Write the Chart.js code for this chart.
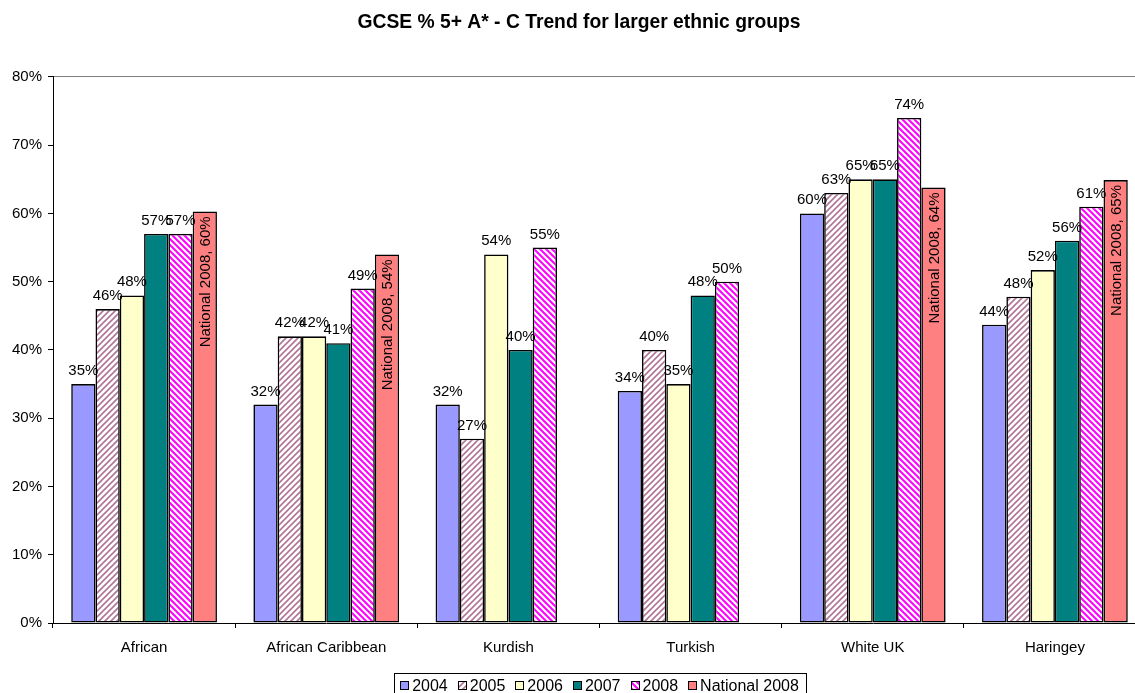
<!DOCTYPE html>
<html>
<head>
<meta charset="utf-8">
<script src="https://cdn.jsdelivr.net/npm/chart.js@4/dist/chart.umd.min.js"></script>
<style>
  html, body { margin: 0; padding: 0; background: #fff; overflow: hidden; }
  #wrap { width: 1150px; height: 693px; position: relative; }
</style>
</head>
<body>
<div id="wrap"><canvas id="c"></canvas></div>
<script>
// Categories and series (GCSE % achieving 5+ A*-C)
const groups = ['African', 'African Caribbean', 'Kurdish', 'Turkish', 'White UK', 'Haringey'];
const seriesNames = ['2004', '2005', '2006', '2007', '2008', 'National 2008'];
const y2004 = [35, 32, 32, 34, 60, 43.7];
const y2005 = [46, 42, 27, 40, 63, 47.8];
const y2006 = [48, 42, 54, 35, 65, 51.7];
const y2007 = [57, 41, 40, 48, 65, 56];
const y2008 = [57, 49, 55, 50, 74, 61];
const national2008 = [60.3, 54, null, null, 63.8, 64.9];
const yTicks = [0, 10, 20, 30, 40, 50, 60, 70, 80];

const FONT = "'Liberation Sans', Arial, sans-serif";

// Diagonal hatch fills
function hatch(bg, fg, size, lw, dir) {
  const t = document.createElement('canvas');
  t.width = size; t.height = size;
  const g = t.getContext('2d');
  g.fillStyle = bg; g.fillRect(0, 0, size, size);
  g.strokeStyle = fg; g.lineWidth = lw; g.lineCap = 'square';
  g.beginPath();
  if (dir === 'up') {
    g.moveTo(-1, 1); g.lineTo(1, -1);
    g.moveTo(0, size); g.lineTo(size, 0);
    g.moveTo(size - 1, size + 1); g.lineTo(size + 1, size - 1);
  } else {
    g.moveTo(-1, size - 1); g.lineTo(1, size + 1);
    g.moveTo(0, 0); g.lineTo(size, size);
    g.moveTo(size - 1, -1); g.lineTo(size + 1, 1);
  }
  g.stroke();
  return g.createPattern(t, 'repeat');
}

const fills = [
  '#9999FF',
  hatch('#ffffff', '#b27496', 6, 1.6, 'up'),
  '#FFFFCC',
  '#008080',
  hatch('#FF00FF', '#ffffff', 6, 2.2, 'down'),
  '#FF8080'
];
const seriesData = [y2004, y2005, y2006, y2007, y2008, national2008];

const datasets = seriesNames.map((name, i) => ({
  label: name,
  data: seriesData[i],
  backgroundColor: fills[i],
  borderColor: '#000',
  borderWidth: 1.6,
  borderSkipped: false,
  categoryPercentage: 0.8,
  barPercentage: 1.0
}));

// Value labels: above the bar for yearly series, rotated inside for national
const valueLabels = {
  id: 'valueLabels',
  afterDatasetsDraw(chart) {
    const ctx = chart.ctx;
    ctx.save();
    ctx.fillStyle = '#000';
    ctx.font = '15px ' + FONT;
    chart.data.datasets.forEach((ds, i) => {
      const meta = chart.getDatasetMeta(i);
      meta.data.forEach((bar, j) => {
        const v = ds.data[j];
        if (v === null || v === undefined) return;
        const txt = Math.round(v) + '%';
        if (ds.label === 'National 2008') {
          ctx.save();
          ctx.translate(bar.x, bar.y + 5);
          ctx.rotate(-Math.PI / 2);
          ctx.textAlign = 'right';
          ctx.textBaseline = 'middle';
          ctx.fillText(ds.label + ', ' + txt, 0, 1);
          ctx.restore();
        } else {
          ctx.textAlign = 'center';
          ctx.textBaseline = 'alphabetic';
          ctx.fillText(txt, bar.x, bar.y - 9);
        }
      });
    });
    ctx.restore();
  }
};

// Boxed legend below the axis
const boxedLegend = {
  id: 'boxedLegend',
  afterDraw(chart) {
    const ctx = chart.ctx;
    ctx.save();
    ctx.font = '16px ' + FONT;
    const sw = 9, gapText = 3, gapItem = 10, pad = 6.5;
    const items = chart.data.datasets.map(ds => ({
      label: ds.label, fill: ds.backgroundColor, w: ctx.measureText(ds.label).width
    }));
    let total = 0;
    items.forEach((it, k) => { total += sw + gapText + it.w + (k < items.length - 1 ? gapItem : 0); });
    const cx = 599.5;
    let x = cx - total / 2;
    const top = 673.5, cy = 685.5;
    ctx.strokeStyle = '#000';
    ctx.lineWidth = 1;
    ctx.strokeRect(Math.round(x - pad) + 0.5, top, Math.round(total + 2 * pad), 30);
    ctx.textBaseline = 'middle';
    ctx.textAlign = 'left';
    items.forEach(it => {
      ctx.fillStyle = it.fill;
      ctx.fillRect(Math.round(x), cy - 4.5, sw, sw);
      ctx.strokeRect(Math.round(x) + 0.5, cy - 4.5 + 0.5, sw - 1, sw - 1);
      ctx.fillStyle = '#000';
      ctx.fillText(it.label, x + sw + gapText, cy + 1);
      x += sw + gapText + it.w + gapItem;
    });
    ctx.restore();
  }
};

new Chart(document.getElementById('c'), {
  type: 'bar',
  data: { labels: groups, datasets },
  options: {
    responsive: true,
    maintainAspectRatio: false,
    animation: false,
    layout: { padding: { top: 0, left: 12, right: 4, bottom: 32 } },
    plugins: {
      legend: { display: false },
      tooltip: { enabled: false },
      title: {
        display: true,
        text: 'GCSE % 5+ A* - C Trend for larger ethnic groups',
        color: '#000',
        font: { family: FONT, size: 19.3, weight: 'bold' },
        padding: { top: 11.5, bottom: 42.3 }
      }
    },
    scales: {
      x: {
        afterFit(s) { s.height = 38; },
        grid: { drawOnChartArea: false, tickLength: 5, tickColor: '#000', offset: true },
        border: { color: '#000', width: 1 },
        ticks: { color: '#000', font: { family: FONT, size: 15 }, padding: 11, maxRotation: 0 }
      },
      y: {
        min: 0,
        max: 80,
        afterFit(s) { s.width = 41; },
        afterBuildTicks(s) { s.ticks = yTicks.map(v => ({ value: v })); },
        grid: {
          drawOnChartArea: true,
          color: c => (c.tick && c.tick.value === 80 ? '#808080' : 'rgba(0,0,0,0)'),
          tickColor: '#000',
          tickLength: 5
        },
        border: { color: '#000', width: 1 },
        ticks: {
          color: '#000',
          font: { family: FONT, size: 15 },
          padding: 6,
          callback: v => v + '%'
        }
      }
    }
  },
  plugins: [valueLabels, boxedLegend]
});
</script>
</body>
</html>
